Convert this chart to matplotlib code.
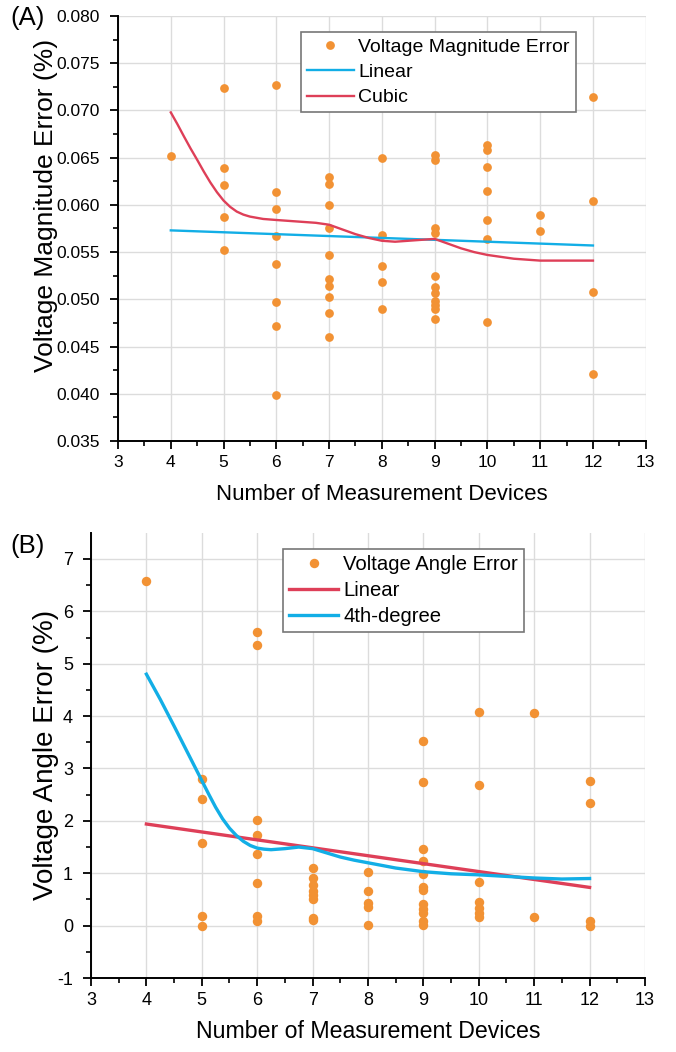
import numpy as np
import matplotlib.pyplot as plt

plt.rcParams['font.family'] = ['Liberation Sans', 'DejaVu Sans']

ORANGE = '#F29234'
BLUE = '#12AEE6'
RED = '#DE3F58'
GRID = '#DCDCDC'

# (A) voltage magnitude error for each number of measurement devices
mag_devices = [4,
               5, 5, 5, 5, 5,
               6, 6, 6, 6, 6, 6, 6, 6,
               7, 7, 7, 7, 7, 7, 7, 7, 7, 7,
               8, 8, 8, 8, 8,
               9, 9, 9, 9, 9, 9, 9, 9, 9, 9, 9,
               10, 10, 10, 10, 10, 10, 10,
               11, 11,
               12, 12, 12, 12]
mag_error = [0.0652,
             0.0724, 0.0639, 0.0621, 0.0587, 0.0552,
             0.0727, 0.0614, 0.0596, 0.0567, 0.0537, 0.0497, 0.0472, 0.0399,
             0.0630, 0.0622, 0.0600, 0.0575, 0.0547, 0.0522, 0.0514, 0.0502, 0.0485, 0.0460,
             0.0650, 0.0568, 0.0535, 0.0518, 0.0490,
             0.0653, 0.0648, 0.0576, 0.0570, 0.0525, 0.0513, 0.0507, 0.0498, 0.0494, 0.0490, 0.0479,
             0.0663, 0.0658, 0.0640, 0.0615, 0.0584, 0.0564, 0.0476,
             0.0589, 0.0572,
             0.0714, 0.0604, 0.0508, 0.0421]

mag_linear_x = [4, 12]
mag_linear = [0.0573, 0.0557]

mag_cubic_x = [4, 4.125, 4.25, 4.375, 4.5, 4.625, 4.75, 4.875, 5, 5.125, 5.25, 5.375, 5.5,
               5.75, 6, 6.25, 6.5, 6.75, 7, 7.25, 7.5, 7.75, 8, 8.25, 8.5, 8.75, 9, 9.25,
               9.5, 9.75, 10, 10.25, 10.5, 10.75, 11, 11.5, 12]
mag_cubic = [0.06979, 0.06855, 0.06724, 0.06597, 0.06477, 0.06353, 0.06237, 0.06134,
             0.06046, 0.05979, 0.05929, 0.05897, 0.05876, 0.05851, 0.0584, 0.0583,
             0.0582, 0.0581, 0.0579, 0.0574, 0.0569, 0.0565, 0.0562, 0.0561, 0.0562,
             0.0563, 0.0564, 0.0559, 0.0554, 0.0550, 0.0547, 0.0545, 0.0543, 0.0542,
             0.0541, 0.0541, 0.0541]

# (B) voltage angle error for each number of measurement devices
ang_devices = [4,
               5, 5, 5, 5, 5,
               6, 6, 6, 6, 6, 6, 6, 6,
               7, 7, 7, 7, 7, 7, 7, 7,
               8, 8, 8, 8, 8,
               9, 9, 9, 9, 9, 9, 9, 9, 9, 9, 9, 9,
               10, 10, 10, 10, 10, 10, 10,
               11, 11,
               12, 12, 12, 12]
ang_error = [6.57,
             2.79, 2.41, 1.57, 0.18, 0.00,
             5.61, 5.36, 2.02, 1.73, 1.37, 0.81, 0.19, 0.08,
             1.10, 0.91, 0.78, 0.67, 0.58, 0.50, 0.14, 0.11,
             1.02, 0.66, 0.44, 0.36, 0.01,
             3.53, 2.74, 1.46, 1.24, 0.98, 0.73, 0.68, 0.41, 0.31, 0.24, 0.09, 0.01,
             4.08, 2.68, 0.83, 0.46, 0.33, 0.24, 0.16,
             4.05, 0.16,
             2.76, 2.34, 0.08, 0.00]

ang_linear_x = [4, 12]
ang_linear = [1.94, 0.73]

ang_quartic_x = [4, 4.25, 4.5, 4.75, 5, 5.125, 5.25, 5.375, 5.5, 5.625, 5.75, 5.875, 6,
                 6.125, 6.25, 6.5, 6.75, 7, 7.25, 7.5, 7.75, 8, 8.5, 9, 9.5, 10, 10.5,
                 11, 11.5, 12]
ang_quartic = [4.80, 4.32, 3.81, 3.29, 2.77, 2.51, 2.26, 2.04, 1.86, 1.72, 1.61, 1.53,
               1.48, 1.46, 1.45, 1.47, 1.50, 1.47, 1.39, 1.31, 1.25, 1.20, 1.10, 1.03,
               0.99, 0.97, 0.94, 0.91, 0.89, 0.90]


def style_axes(ax, ylim, ymajor, yminor, yfmt, labelsize):
    ax.set_xlim(3, 13)
    ax.set_ylim(*ylim)
    ax.set_xticks(np.arange(3, 14, 1))
    ax.set_xticks(np.arange(3.5, 13, 1), minor=True)
    ax.set_yticks(ymajor)
    ax.set_yticks(yminor, minor=True)
    ax.set_yticklabels([yfmt.format(v) for v in ymajor])
    ax.grid(True, which='major', color=GRID, linewidth=1.0)
    ax.set_axisbelow(True)
    for side in ['top', 'right']:
        ax.spines[side].set_visible(False)
    for side in ['left', 'bottom']:
        ax.spines[side].set_linewidth(1.4)
    ax.tick_params(which='major', direction='out', length=6, width=1.3, labelsize=labelsize)
    ax.tick_params(axis='x', which='major', pad=4)
    ax.tick_params(axis='y', which='major', pad=7)
    ax.tick_params(which='minor', direction='out', length=3.5, width=1.2)


def add_legend(ax, anchor, size, spacing):
    leg = ax.legend(loc='upper left', bbox_to_anchor=anchor, fontsize=size,
                    frameon=True, fancybox=False, framealpha=1, edgecolor='#777777',
                    handlelength=2.4, handletextpad=0.25, labelspacing=spacing,
                    borderpad=0.3, borderaxespad=0)
    leg.get_frame().set_linewidth(1.2)
    return leg


fig = plt.figure(figsize=(6.76, 10.52), dpi=100)

# --- (A) magnitude ---
ax1 = fig.add_axes([0.1746, 0.5808, 0.7806, 0.404])
ax1.plot(mag_devices, mag_error, 'o', color=ORANGE, ms=6.3, mec='none', zorder=3,
         label='Voltage Magnitude Error')
ax1.plot(mag_linear_x, mag_linear, color=BLUE, lw=1.7, zorder=4, label='Linear')
ax1.plot(mag_cubic_x, mag_cubic, color=RED, lw=1.7, zorder=4, label='Cubic')
style_axes(ax1, (0.035, 0.080), np.arange(0.035, 0.0801, 0.005),
           np.arange(0.0375, 0.080, 0.005), '{:.3f}', 12.5)
ax1.set_xlabel('Number of Measurement Devices', fontsize=16)
ax1.set_ylabel('Voltage Magnitude Error (%)', fontsize=19)
ax1.xaxis.set_label_coords(0.5, -0.102)
ax1.yaxis.set_label_coords(-0.113, 0.555)
add_legend(ax1, (0.347, 0.962), 14, 0.4)

# --- (B) angle ---
ax2 = fig.add_axes([0.1346, 0.0703, 0.8195, 0.4233])
ax2.plot(ang_devices, ang_error, 'o', color=ORANGE, ms=6.8, mec='none', zorder=3,
         label='Voltage Angle Error')
ax2.plot(ang_linear_x, ang_linear, color=RED, lw=2.4, zorder=4, label='Linear')
ax2.plot(ang_quartic_x, ang_quartic, color=BLUE, lw=2.4, zorder=4, label='4th-degree')
style_axes(ax2, (-1, 7.5), np.arange(-1, 8, 1), np.arange(-0.5, 7.5, 1), '{:.0f}', 13)
ax2.set_xlabel('Number of Measurement Devices', fontsize=16.7)
ax2.set_ylabel('Voltage Angle Error (%)', fontsize=20)
ax2.xaxis.set_label_coords(0.5, -0.095)
ax2.yaxis.set_label_coords(-0.058, 0.5)
add_legend(ax2, (0.347, 0.963), 14.6, 0.33)

fig.text(0.016, 0.983, '(A)', fontsize=18.5, va='center', ha='left')
fig.text(0.016, 0.481, '(B)', fontsize=18.5, va='center', ha='left')

fig.savefig('out.png', dpi=100)
